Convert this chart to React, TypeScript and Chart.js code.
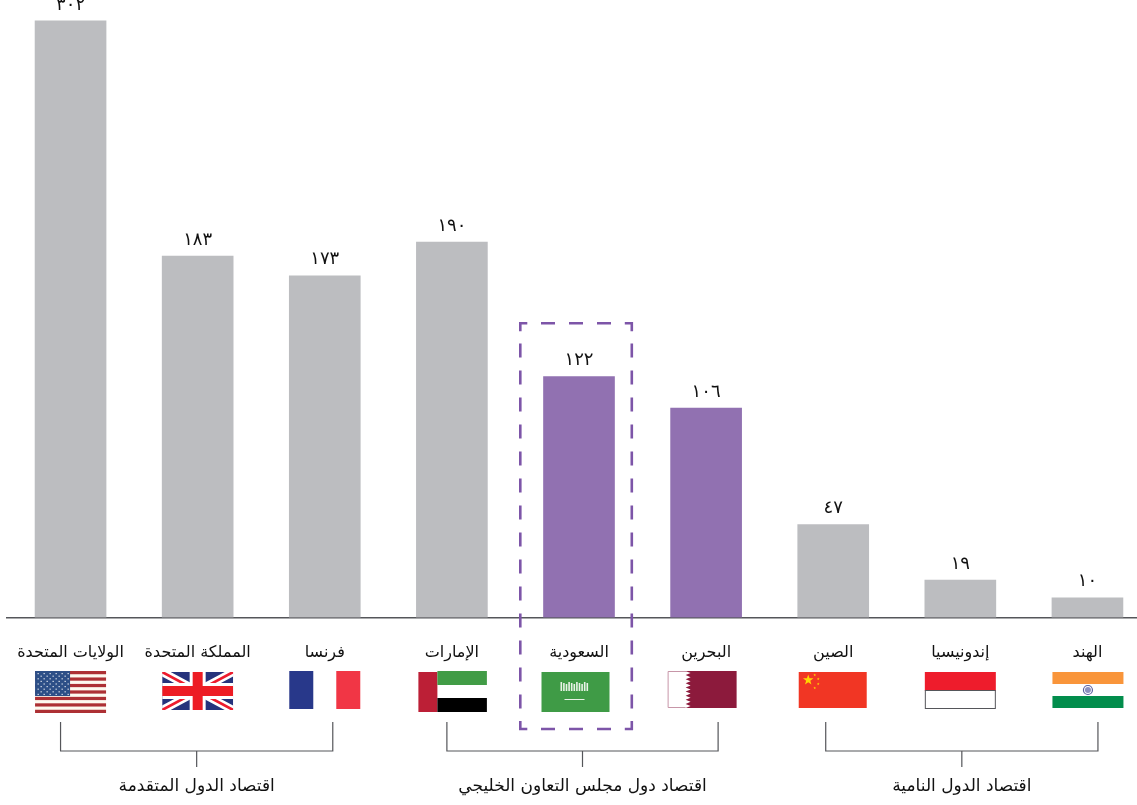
import React, { useEffect, useRef } from "react";
import { Chart, registerables } from "chart.js";

Chart.register(...registerables);

const countries = ["الولايات المتحدة", "المملكة المتحدة", "فرنسا", "الإمارات", "السعودية", "البحرين", "الصين", "إندونيسيا", "الهند"];
const values = [302, 183, 173, 190, 122, 106, 47, 19, 10];
const valueLabels = ["٣٠٢", "١٨٣", "١٧٣", "١٩٠", "١٢٢", "١٠٦", "٤٧", "١٩", "١٠"];
const barColors = ["#bcbdc0", "#bcbdc0", "#bcbdc0", "#bcbdc0", "#9171b1", "#9171b1", "#bcbdc0", "#bcbdc0", "#bcbdc0"];
const groupLabels = ["اقتصاد الدول المتقدمة", "اقتصاد دول مجلس التعاون الخليجي", "اقتصاد الدول النامية"];
const groupRanges = [[0, 2], [3, 5], [6, 8]];
const groupInsetLeft = [10, 5, 7.5];
const groupInsetRight = [8, 12, 10.5];
const FONT = '"DejaVu Sans", "Noto Sans", sans-serif';

type C = CanvasRenderingContext2D;
const r = (c: C, col: string, x: number, y: number, w: number, h: number) => { c.fillStyle = col; c.fillRect(x, y, w, h); };

function star(c: C, cx: number, cy: number, R: number, col: string) {
  c.fillStyle = col; c.beginPath();
  for (let i = 0; i < 10; i++) {
    const a = -Math.PI / 2 + (i * Math.PI) / 5; const rr = i % 2 ? R * 0.4 : R;
    c.lineTo(cx + rr * Math.cos(a), cy + rr * Math.sin(a));
  }
  c.closePath(); c.fill();
}

function usFlag(c: C, x: number) {
  const l = x - 35.5, t = 671, w = 71, sh = 42 / 13;
  r(c, "#fdf9ef", l, t, w, 42);
  for (let i = 0; i < 13; i += 2) r(c, "#ad3034", l, t + i * sh, w, sh);
  r(c, "#2d4f87", l, t, 35, 25);
  c.fillStyle = "#e6ebf2";
  for (let row = 0; row < 9; row++) for (let col = 0; col < (row % 2 ? 5 : 6); col++) c.fillRect(l + 2.5 + col * 6 + (row % 2 ? 3 : 0), t + 2 + row * 2.6, 1.2, 1.2);
}
function ukFlag(c: C, x: number) {
  const l = x - 35.5, t = 672, w = 71, h = 38;
  c.save(); c.beginPath(); c.rect(l, t, w, h); c.clip();
  r(c, "#26337c", l, t, w, h);
  c.strokeStyle = "#fff"; c.lineWidth = 8; c.beginPath(); c.moveTo(l, t); c.lineTo(l + w, t + h); c.moveTo(l + w, t); c.lineTo(l, t + h); c.stroke();
  c.strokeStyle = "#ed1c2e"; c.lineWidth = 2.6; c.beginPath(); c.moveTo(l, t); c.lineTo(l + w, t + h); c.moveTo(l + w, t); c.lineTo(l, t + h); c.stroke();
  r(c, "#fff", x - 8, t, 16, h); r(c, "#fff", l, t + 11, w, 16);
  r(c, "#ed1c24", x - 5, t, 10, h); r(c, "#ed1c24", l, t + 14, w, 10);
  c.restore();
}
function frFlag(c: C, x: number) {
  const l = x - 35.5;
  r(c, "#28388a", l, 671, 24, 38); r(c, "#f13645", l + 47, 671, 24, 38);
}
function aeFlag(c: C, x: number) {
  r(c, "#bc1f36", x - 33.5, 672, 19, 40);
  r(c, "#419c46", x - 14.5, 671, 49.5, 14); r(c, "#000", x - 14.5, 698, 49.5, 14);
}
function saFlag(c: C, x: number) {
  const l = x - 37.5;
  r(c, "#3f9b46", l, 672, 68, 40);
  c.fillStyle = "#e8f2e6";
  for (let i = 0; i < 11; i++) c.fillRect(l + 19 + i * 2.6, 682 + (i % 3), 1.6, 9 - (i % 3));
  r(c, "#e8f2e6", l + 23, 699, 20, 1);
}
function qaFlag(c: C, x: number) {
  const l = x - 38.5, t = 671, h = 37;
  r(c, "#8c1a3c", l + 17, t, 52, h);
  c.fillStyle = "#fff"; c.strokeStyle = "#c796a8"; c.lineWidth = 1;
  c.beginPath(); c.moveTo(l + 0.5, t + 0.5); c.lineTo(l + 19, t + 0.5);
  for (let i = 0; i < 9; i++) { c.lineTo(l + 23, t + (i + 0.5) * h / 9); c.lineTo(l + 18, t + (i + 1) * h / 9); }
  c.lineTo(l + 0.5, t + h - 0.5); c.closePath(); c.fill();
  c.beginPath(); c.moveTo(l + 18, t + 0.5); c.lineTo(l + 0.5, t + 0.5); c.lineTo(l + 0.5, t + h - 0.5); c.lineTo(l + 18, t + h - 0.5); c.stroke();
}
function cnFlag(c: C, x: number) {
  const l = x - 34.5;
  r(c, "#f13624", l, 672, 68, 36);
  star(c, l + 9.5, 680, 5.5, "#ffd800");
  [[16, 675], [19.5, 679], [19.5, 684], [16, 688]].forEach(([dx, y]) => star(c, l + dx, y, 1.4, "#ffd800"));
}
function idFlag(c: C, x: number) {
  const l = x - 35.5;
  r(c, "#ee1c2c", l, 672, 71, 19);
  c.strokeStyle = "#55565a"; c.lineWidth = 1; c.strokeRect(l + 0.5, 690.5, 70, 18);
}
function inFlag(c: C, x: number) {
  const l = x - 35;
  r(c, "#f9953a", l, 672, 71, 12); r(c, "#028d4c", l, 696, 71, 12);
  c.strokeStyle = "#5a5fa0"; c.lineWidth = 1.2; c.beginPath(); c.arc(x + 0.5, 690, 4.5, 0, Math.PI * 2); c.stroke();
  c.fillStyle = "#8d90c0"; c.beginPath(); c.arc(x + 0.5, 690, 3, 0, Math.PI * 2); c.fill();
}
const flags = [usFlag, ukFlag, frFlag, aeFlag, saFlag, qaFlag, cnFlag, idFlag, inFlag];

function highlightBox(c: C) {
  const L = 520.3, R = 631.8, T = 323.3, B = 729;
  c.strokeStyle = "#7d55a8"; c.lineWidth = 2.6; c.lineCap = "butt";
  c.beginPath();
  c.moveTo(L, T + 8); c.lineTo(L, T); c.lineTo(L + 7, T);
  c.moveTo(R - 7, T); c.lineTo(R, T); c.lineTo(R, T + 8);
  c.moveTo(L, B - 8); c.lineTo(L, B); c.lineTo(L + 7, B);
  c.moveTo(R - 7, B); c.lineTo(R, B); c.lineTo(R, B - 8);
  c.stroke();
  c.setLineDash([14, 14]);
  c.beginPath();
  c.moveTo(541, T); c.lineTo(612, T);
  c.moveTo(541, B); c.lineTo(612, B);
  c.stroke();
  c.setLineDash([14, 13]);
  c.beginPath();
  c.moveTo(L, 343.5); c.lineTo(L, 716);
  c.moveTo(R, 343.5); c.lineTo(R, 716);
  c.stroke();
  c.setLineDash([]);
}

const annotations = {
  id: "annotations",
  afterDraw(chart: any) {
    const c: C = chart.ctx;
    const xs = chart.scales.x;
    const meta = chart.getDatasetMeta(0);
    c.save();
    c.fillStyle = "#111"; c.font = `18px ${FONT}`; c.textAlign = "center"; c.textBaseline = "middle";
    meta.data.forEach((b: any, i: number) => c.fillText(valueLabels[i], b.x, b.y - 16));
    flags.forEach((f, i) => f(c, xs.getPixelForValue(i)));
    c.strokeStyle = "#55565a"; c.lineWidth = 1.2;
    groupRanges.forEach(([a, b], i) => {
      const left = xs.getPixelForValue(a) - groupInsetLeft[i];
      const right = xs.getPixelForValue(b) + groupInsetRight[i];
      const mid = (left + right) / 2;
      c.beginPath();
      c.moveTo(left, 722); c.lineTo(left, 751); c.lineTo(right, 751); c.lineTo(right, 722);
      c.moveTo(mid, 751); c.lineTo(mid, 767); c.stroke();
      c.fillStyle = "#111"; c.font = `17px ${FONT}`;
      c.fillText(groupLabels[i], mid, 787);
    });
    highlightBox(c);
    c.restore();
  },
};

export default function App() {
  const ref = useRef<HTMLCanvasElement>(null);
  useEffect(() => {
    const chart = new Chart(ref.current!, {
      type: "bar",
      data: { labels: countries, datasets: [{ data: values, backgroundColor: barColors, barThickness: 71, borderWidth: 0 }] },
      plugins: [annotations],
      options: {
        animation: false,
        responsive: false,
        layout: { padding: { left: 7, right: 9, top: 0, bottom: 0 } },
        plugins: { legend: { display: false }, tooltip: { enabled: false } },
        scales: {
          y: { display: false, min: 0, max: 312.6 },
          x: {
            grid: { display: false, drawTicks: false },
            border: { display: true, color: "#55565a", width: 1.5 },
            ticks: { padding: 26, maxRotation: 0, minRotation: 0, autoSkip: false, color: "#111", font: { family: FONT, size: 16 } },
            afterFit: (s: any) => { s.height = 805 - 617.5; s.paddingLeft = 0; s.paddingRight = 0; },
          },
        },
      },
    } as any);
    return () => chart.destroy();
  }, []);
  return (
    <div style={{ position: "absolute", left: 0, top: 0, width: 1137, height: 805, overflow: "hidden", background: "#fff" }}>
      <canvas ref={ref} width={1160} height={805} style={{ display: "block" }} />
    </div>
  );
}
